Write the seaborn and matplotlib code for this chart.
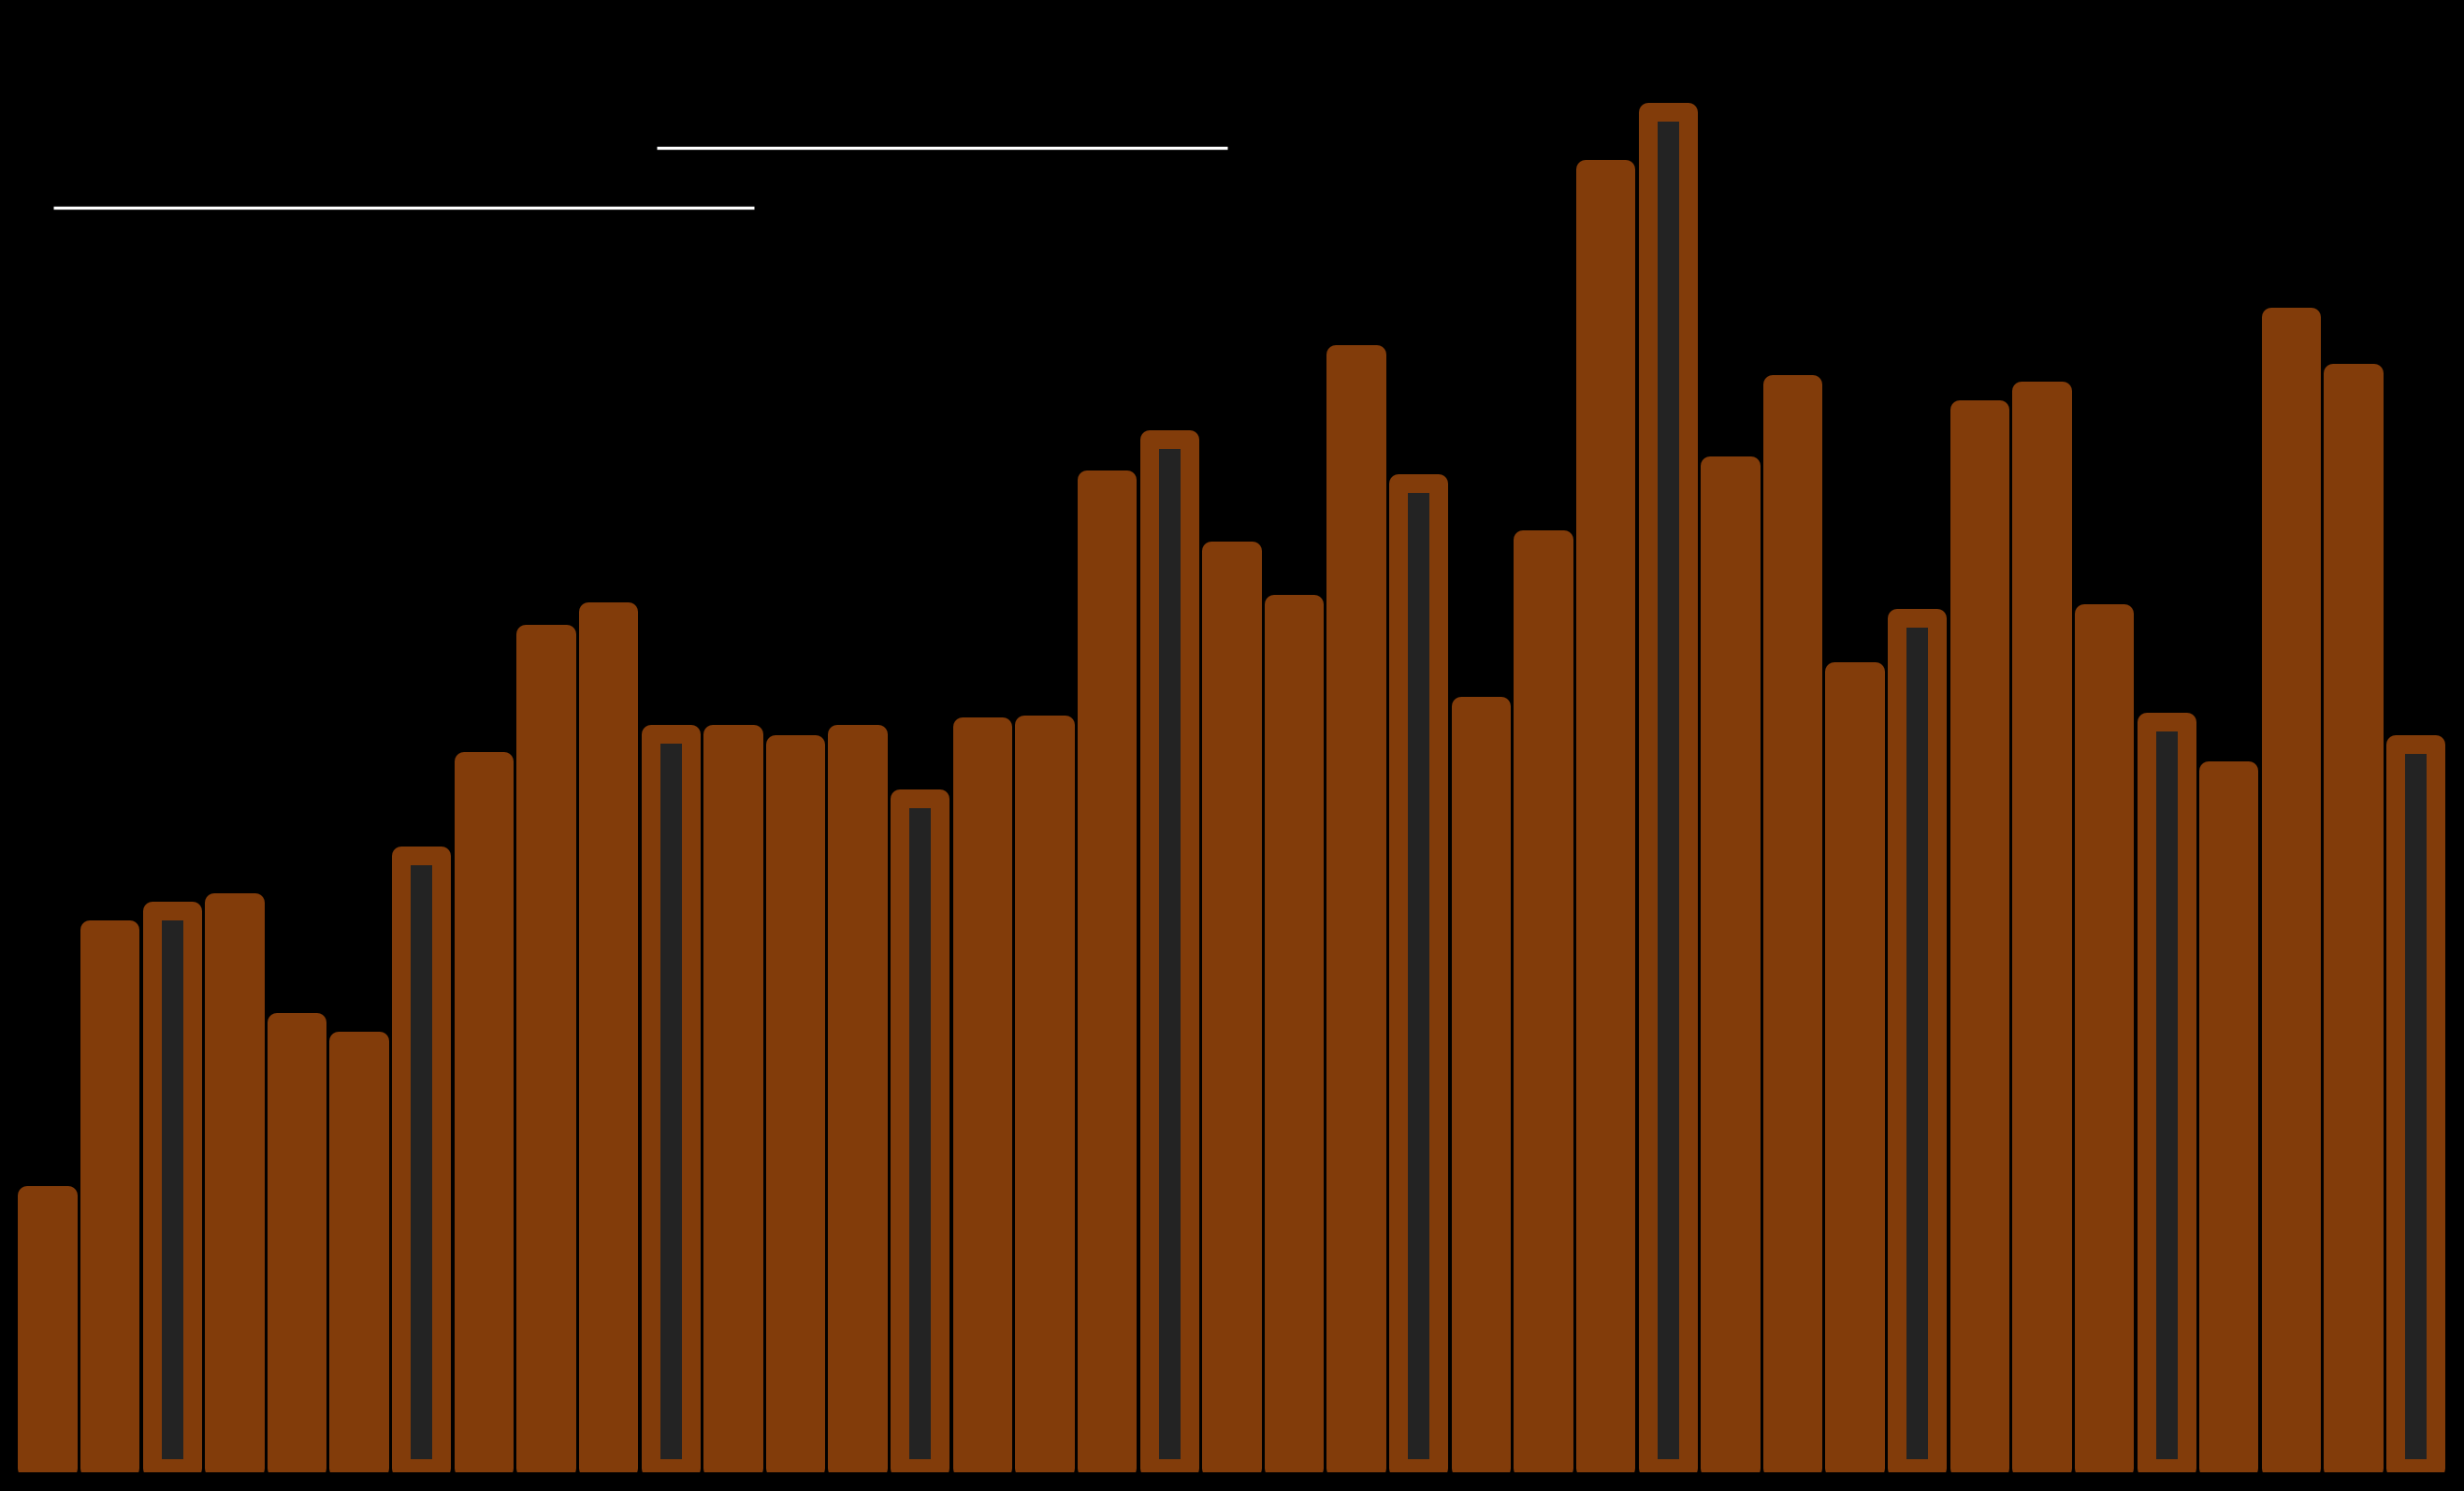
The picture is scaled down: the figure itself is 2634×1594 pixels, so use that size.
import matplotlib
matplotlib.use('Agg')
import matplotlib.pyplot as plt
import seaborn as sns
import pandas as pd

# bar heights (arbitrary units)
values = [17.4, 34.3, 35.5, 36.0, 28.4, 27.2, 39.0, 45.0, 53.1, 54.5,
          46.7, 46.7, 46.1, 46.7, 42.6, 47.2, 47.3, 62.9, 65.5, 58.4,
          55.0, 70.9, 62.7, 48.5, 59.1, 82.7, 86.3, 63.8, 69.0, 50.7,
          54.1, 67.4, 68.6, 54.4, 47.5, 44.4, 73.3, 69.7, 46.1]
# every fourth bar (starting at the third) is highlighted
highlight = [i % 4 == 2 for i in range(len(values))]

# two white reference segments near the top: (x0, x1, y)
seg_x0 = [0.09, 9.77]
seg_x1 = [11.33, 18.93]
seg_y = [80.25, 84.05]

BROWN = "#823c0a"
DARK = "#232323"

df = pd.DataFrame({"idx": range(len(values)), "value": values, "hl": highlight})

sns.set_style("dark")
fig = plt.figure(figsize=(13.17, 7.97), dpi=200, facecolor="black")
ax = fig.add_axes([0, 20 / 1594, 1, 1 - 20 / 1594])
ax.set_facecolor("black")

sns.barplot(data=df, x="idx", y="value", hue="hl",
            palette={False: BROWN, True: DARK}, dodge=False, saturation=1,
            width=0.65, legend=False, ax=ax)
for p in ax.patches:
    p.set_edgecolor(BROWN)
    p.set_linewidth(7.2)
    p.set_joinstyle("round")

for x0, x1, y in zip(seg_x0, seg_x1, seg_y):
    ax.plot([x0, x1], [y, y], color="white", lw=1.2, solid_capstyle="butt")

ax.set_xlim(-0.766, 38.77)
ax.set_ylim(-0.24, 93.46)
ax.set_xlabel("")
ax.set_ylabel("")
ax.set_xticks([])
ax.set_yticks([])
ax.grid(False)
for s in ax.spines.values():
    s.set_visible(False)

fig.savefig("out.png", dpi=200, facecolor="black")
